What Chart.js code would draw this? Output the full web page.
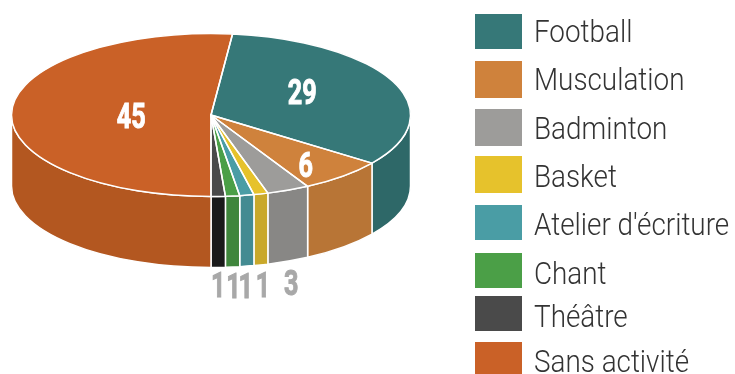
<!DOCTYPE html>
<html>
<head>
<meta charset="utf-8">
<style>
html, body { margin: 0; padding: 0; background: #fff; overflow: hidden; }
#wrap { position: relative; width: 735px; height: 374px; }
</style>
<script src="https://cdn.jsdelivr.net/npm/chart.js@4"></script>
</head>
<body>
<div id="wrap"><canvas id="chart" width="735" height="374"></canvas></div>
<script>
var categories = ['Football', 'Musculation', 'Badminton', 'Basket', "Atelier d'écriture", 'Chant', 'Théâtre', 'Sans activité'];
var values = [29, 6, 3, 1, 1, 1, 1, 45];
var topColors = ['#367878', '#cf823c', '#9d9c9a', '#e6c22c', '#4a9da5', '#4b9f47', '#4a4a4a', '#ca6127'];
var sideColors = ['#2e6868', '#b87536', '#888785', '#c9a82a', '#438b92', '#3f863c', '#1a1a1a', '#b35720'];

// pie geometry on screen
var CX = 211, CY = 115, RX = 199.5, RY = 81.5, DEPTH = 71;

// where each value label sits: fraction of radius along the mid angle + nudge
var labelPlace = [
    { f: 0.5, dx: 0, dy: -7, white: true },
    { f: 0.71, dx: 1, dy: 6, white: true },
    { f: 1, dx: 3, dy: 92, white: false },
    { f: 1, dx: 2, dy: 91, white: false },
    { f: 1, dx: -1, dy: 90, white: false },
    { f: 1, dx: 1, dy: 89, white: false },
    { f: 1, dx: 0, dy: 88.5, white: false },
    { f: 0.4, dx: 0, dy: 2, white: true }
];

// legend rows, the reference spacing is not regular
var legendTops = [14, 61, 109, 156, 205, 253, 296, 342];
var legendHeights = [35, 37, 37, 37, 35, 35, 35, 35];
var legendBase = [42, 90, 139, 187, 235, 284, 327, 372];

function applyEllipse(ctx, arc) {
    ctx.translate(CX, CY);
    ctx.scale(1, RY / RX);
    ctx.translate(-arc.x, -arc.y);
}

function scaledText(ctx, text, x, y, sx) {
    ctx.save();
    ctx.translate(x, y);
    ctx.scale(sx, 1);
    ctx.fillText(text, 0, 0);
    ctx.restore();
}

var piePlugin = {
    id: 'pie3d',
    beforeDatasetsDraw: function (chart) {
        var ctx = chart.ctx;
        var arcs = chart.getDatasetMeta(0).data;
        ctx.save();
        ctx.lineWidth = 1.5;
        ctx.strokeStyle = '#fff';
        arcs.forEach(function (arc, i) {
            var a0 = Math.max(arc.startAngle, 0), a1 = Math.min(arc.endAngle, Math.PI);
            if (a1 <= a0) return;
            ctx.beginPath();
            ctx.ellipse(CX, CY, RX, RY, 0, a0, a1);
            ctx.ellipse(CX, CY + DEPTH, RX, RY, 0, a1, a0, true);
            ctx.closePath();
            ctx.fillStyle = sideColors[i];
            ctx.fill();
            ctx.stroke();
        });
        ctx.restore();
        ctx.save();
        applyEllipse(ctx, arcs[0]);
    },
    afterDatasetsDraw: function (chart) {
        var ctx = chart.ctx;
        var arcs = chart.getDatasetMeta(0).data;
        ctx.restore();

        // white slice outlines, stroked outside of the squash so they stay even
        ctx.save();
        ctx.lineWidth = 1.5;
        ctx.strokeStyle = '#fff';
        ctx.lineJoin = 'round';
        arcs.forEach(function (arc) {
            ctx.save();
            applyEllipse(ctx, arc);
            ctx.beginPath();
            ctx.moveTo(arc.x, arc.y);
            ctx.arc(arc.x, arc.y, arc.outerRadius, arc.startAngle, arc.endAngle);
            ctx.closePath();
            ctx.restore();
            ctx.stroke();
        });
        ctx.restore();

        // value labels
        ctx.save();
        ctx.textAlign = 'center';
        ctx.textBaseline = 'alphabetic';
        ctx.font = '700 35px Roboto';
        arcs.forEach(function (arc, i) {
            var p = labelPlace[i];
            var mid = (arc.startAngle + arc.endAngle) / 2;
            var x = CX + RX * p.f * Math.cos(mid) + p.dx;
            var y = CY + RY * p.f * Math.sin(mid) + p.dy;
            ctx.fillStyle = p.white ? '#fff' : '#a8a8a8';
            ctx.strokeStyle = ctx.fillStyle;
            ctx.lineWidth = 1;
            ctx.save();
            ctx.translate(x, y + 12.5);
            ctx.scale(0.72, 1);
            ctx.fillText(String(values[i]), 0, 0);
            ctx.strokeText(String(values[i]), 0, 0);
            ctx.restore();
        });
        ctx.restore();

        // legend
        ctx.save();
        ctx.textAlign = 'left';
        ctx.font = '300 32px Roboto';
        categories.forEach(function (name, i) {
            ctx.fillStyle = topColors[i];
            ctx.fillRect(475, legendTops[i], 47, legendHeights[i]);
            ctx.fillStyle = '#333';
            scaledText(ctx, name, 534, legendBase[i], 0.87);
        });
        ctx.restore();
    }
};

new Chart(document.getElementById('chart'), {
    type: 'pie',
    data: {
        labels: categories,
        datasets: [{
            data: values,
            backgroundColor: topColors,
            borderWidth: 0,
            clip: false
        }]
    },
    options: {
        responsive: false,
        animation: false,
        rotation: 6.2,
        radius: RX,
        events: [],
        plugins: {
            legend: { display: false },
            tooltip: { enabled: false },
            title: { display: false }
        }
    },
    plugins: [piePlugin]
});
</script>
</body>
</html>
